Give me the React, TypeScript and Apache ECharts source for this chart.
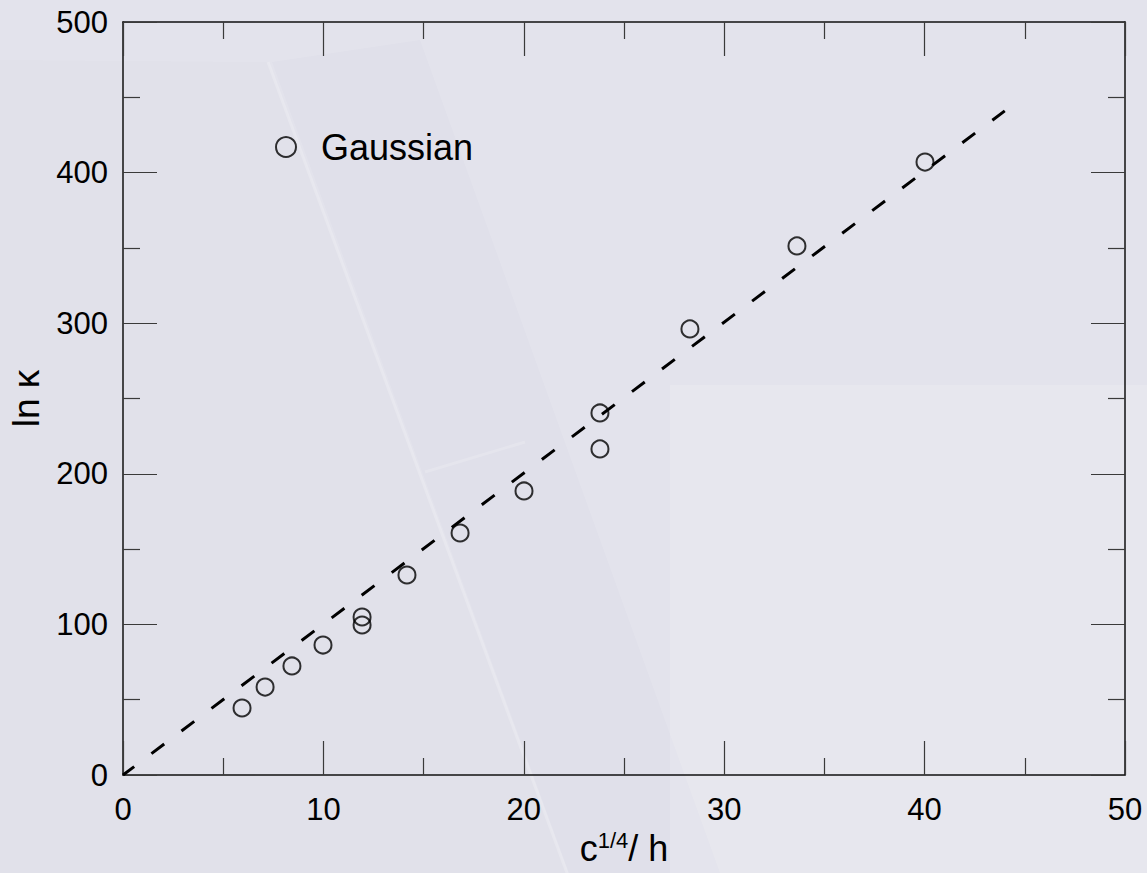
import React, { useEffect, useRef } from "react";
import * as echarts from "echarts";

// Measured points: scaled resolution c^{1/4}/h against ln κ
const xValues = [5.94, 7.09, 8.43, 9.98, 11.93, 11.93, 14.17, 16.82, 20.01, 23.8, 23.8, 28.29, 33.63, 40.02];
const lnKappa = [44.5, 58.4, 72.4, 86.3, 104.9, 99.6, 132.8, 160.7, 188.6, 240.4, 216.5, 296.2, 351.3, 407.0];

// Straight-line fit through the origin (end points)
const fitX = [0, 44];
const fitY = [0, 441];

// Axis tick values
const xTicks = [0, 10, 20, 30, 40, 50];
const yTicks = [0, 100, 200, 300, 400, 500];

const seriesName = "Gaussian";
const FONT = '"Liberation Sans", Arial, Helvetica, sans-serif';

function axisCommon(min: number, max: number, interval: number) {
  return {
    type: "value" as const,
    min,
    max,
    interval,
    axisLine: { show: true, onZero: false, lineStyle: { color: "#111", width: 1.5 } },
    axisTick: { show: true, inside: true, length: 34, lineStyle: { color: "#3a3a3a", width: 1.2 } },
    minorTick: { show: true, splitNumber: 2, length: 17, lineStyle: { color: "#3a3a3a", width: 1.2 } },
    splitLine: { show: false },
  };
}

export default function App() {
  const ref = useRef<HTMLDivElement>(null);

  useEffect(() => {
    if (!ref.current) return;
    const chart = echarts.init(ref.current, undefined, { renderer: "svg" });

    const xMin = xTicks[0];
    const xMax = xTicks[xTicks.length - 1];
    const xStep = xTicks[1] - xTicks[0];
    const yMin = yTicks[0];
    const yMax = yTicks[yTicks.length - 1];
    const yStep = yTicks[1] - yTicks[0];

    chart.setOption({
      animation: false,
      backgroundColor: "#e3e3ec",
      graphic: [
        // soft backdrop shading
        {
          type: "polygon",
          z: -9,
          silent: true,
          shape: { points: [[0, 60], [268, 62], [567, 873], [0, 873]] },
          style: { fill: "rgba(60,60,100,0.012)" },
        },
        {
          type: "polygon",
          z: -9,
          silent: true,
          shape: { points: [[272, 62], [420, 40], [720, 873], [569, 873]] },
          style: { fill: "rgba(60,60,100,0.014)" },
        },
        {
          type: "rect",
          z: -9,
          silent: true,
          shape: { x: 670, y: 385, width: 477, height: 488 },
          style: { fill: "rgba(255,255,255,0.14)" },
        },
        {
          type: "line",
          z: -8,
          silent: true,
          shape: { x1: 268, y1: 62, x2: 567, y2: 873 },
          style: { stroke: "rgba(255,255,255,0.2)", lineWidth: 3 },
        },
        {
          type: "line",
          z: -8,
          silent: true,
          shape: { x1: 425, y1: 472, x2: 525, y2: 442 },
          style: { stroke: "rgba(255,255,255,0.16)", lineWidth: 3 },
        },
      ],
      grid: { left: 123, right: 22, top: 22, bottom: 98, containLabel: false },
      legend: {
        left: 275,
        top: 129,
        padding: 0,
        itemWidth: 20,
        itemHeight: 20,
        selectedMode: false,
        data: [
          {
            name: seriesName,
            icon: "circle",
            itemStyle: { color: "transparent", borderColor: "#000", borderWidth: 2 },
          },
        ],
        textStyle: { fontSize: 36, color: "#000", fontFamily: FONT, padding: [0, 0, 0, 20] },
      },
      xAxis: [
        {
          ...axisCommon(xMin, xMax, xStep),
          position: "bottom",
          axisLabel: { show: true, fontSize: 31, color: "#000", fontFamily: FONT, margin: 19 },
          name: "{c|c}{s|1/4}{c|/ h}",
          nameLocation: "middle",
          nameGap: 54,
          nameTextStyle: {
            fontFamily: FONT,
            color: "#000",
            rich: {
              c: { fontSize: 36, fontFamily: FONT, color: "#000", lineHeight: 38 },
              s: { fontSize: 22, fontFamily: FONT, color: "#000", lineHeight: 38, verticalAlign: "top" },
            },
          },
        },
        {
          ...axisCommon(xMin, xMax, xStep),
          position: "top",
          axisLabel: { show: false },
        },
      ],
      yAxis: [
        {
          ...axisCommon(yMin, yMax, yStep),
          position: "left",
          axisLabel: { show: true, fontSize: 31, color: "#000", fontFamily: FONT, margin: 15 },
          name: "ln κ",
          nameLocation: "middle",
          nameGap: 72,
          nameTextStyle: { fontSize: 37, color: "#000", fontFamily: FONT },
        },
        {
          ...axisCommon(yMin, yMax, yStep),
          position: "right",
          axisLabel: { show: false },
        },
      ],
      series: [
        {
          name: "fit",
          type: "line",
          xAxisIndex: 0,
          yAxisIndex: 0,
          data: fitX.map((x, i) => [x, fitY[i]]),
          symbol: "none",
          lineStyle: { color: "#000", width: 3, type: [16, 21.6], dashOffset: 2 },
          z: 3,
        },
        {
          name: seriesName,
          type: "scatter",
          xAxisIndex: 0,
          yAxisIndex: 0,
          data: xValues.map((x, i) => [x, lnKappa[i]]),
          symbol: "circle",
          symbolSize: 17,
          itemStyle: { color: "transparent", borderColor: "#000", borderWidth: 2 },
          z: 4,
        },
      ],
    });

    return () => chart.dispose();
  }, []);

  return (
    <div
      ref={ref}
      style={{ position: "absolute", left: 0, top: 0, width: 1147, height: 873 }}
    />
  );
}
